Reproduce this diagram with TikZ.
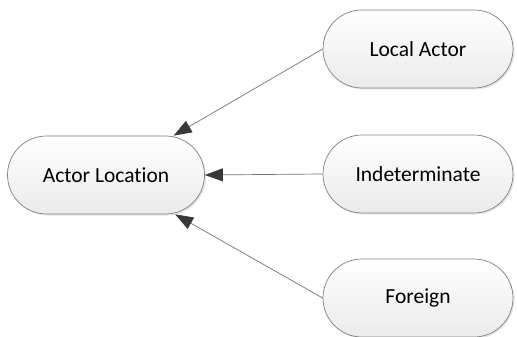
\documentclass[tikz,border=0pt]{standalone}
\usepackage{fontspec}
\setmainfont{Carlito}[Ligatures={NoCommon}]
\usetikzlibrary{arrows.meta,shadows}
\begin{document}
\begin{tikzpicture}[x=1pt,y=-1pt,
  pill/.style={draw=black!50, line width=0.7pt, rounded corners=39pt,
    minimum width=190pt, minimum height=78pt, inner sep=0pt,
    top color=white, bottom color=black!8,
    drop shadow={shadow xshift=1.5pt, shadow yshift=-1.5pt, fill=black!20, opacity=0.5},
    font=\fontsize{21.5}{25}\selectfont},
  link/.style={draw=black!55, line width=0.7pt,
    -{Triangle[length=18pt,width=13pt,fill=black!78,color=black!78]}}]
\useasboundingbox (0,0) rectangle (517,337);
\node[pill, minimum width=197pt] (AL) at (106,175) {Actor Location};
\node[pill] (LA) at (418,49) {Local Actor};
\node[pill] (IN) at (418,174) {Indeterminate};
\node[pill] (FO) at (418,298) {Foreign};
\draw[link] (LA.west) -- (AL);
\draw[link] (IN.west) -- (AL.east);
\draw[link] (FO.west) -- (AL);
\end{tikzpicture}
\end{document}
